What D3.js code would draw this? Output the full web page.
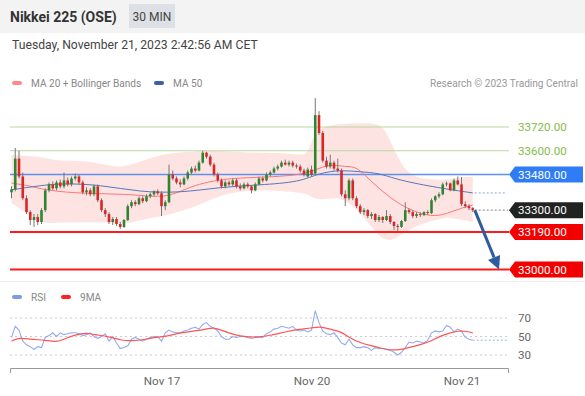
<!DOCTYPE html>
<html>
<head>
<meta charset="utf-8">
<script src="https://cdn.jsdelivr.net/npm/d3@7"></script>
<style>
body{margin:0;background:#fff;}
svg text{font-family:Roboto, Arial, sans-serif;}
</style>
</head>
<body>
<svg id="chart" width="585" height="396"></svg>
<script>
// x axis: candle index of the first bar of each day
const xTickIdx = [40, 80, 120]
const xTickLabels = ['Nov 17', 'Nov 20', 'Nov 21']

// 30 min candles [open, high, low, close]
const ohlc = [
	[33390,33420,33360,33405],[33405,33614,33395,33560],[33560,33600,33460,33470],[33470,33490,33350,33360],
	[33360,33375,33280,33290],[33290,33300,33225,33250],[33250,33280,33215,33265],[33265,33280,33225,33240],
	[33240,33310,33230,33300],[33300,33410,33290,33400],[33400,33440,33390,33430],[33430,33445,33400,33410],
	[33410,33450,33400,33440],[33440,33455,33410,33420],[33420,33490,33410,33450],[33450,33465,33420,33430],
	[33430,33470,33420,33460],[33460,33485,33450,33470],[33470,33480,33430,33440],[33440,33450,33380,33390],
	[33390,33415,33375,33400],[33400,33410,33370,33380],[33380,33430,33370,33420],[33420,33430,33340,33350],
	[33350,33360,33290,33300],[33300,33310,33265,33280],[33280,33290,33230,33240],[33240,33265,33225,33255],
	[33255,33265,33220,33230],[33230,33240,33205,33215],[33215,33255,33210,33250],[33250,33330,33245,33320],
	[33320,33350,33310,33340],[33340,33350,33320,33330],[33330,33370,33325,33360],[33360,33370,33335,33345],
	[33345,33380,33340,33370],[33370,33390,33360,33380],[33380,33400,33370,33395],[33395,33405,33375,33385],
	[33385,33395,33270,33320],[33320,33350,33300,33340],[33340,33530,33335,33480],[33480,33500,33450,33460],
	[33460,33470,33430,33440],[33440,33455,33415,33430],[33430,33470,33425,33460],[33460,33500,33450,33490],
	[33490,33520,33480,33510],[33510,33525,33490,33500],[33500,33550,33495,33540],[33540,33600,33535,33590],
	[33590,33595,33560,33570],[33570,33580,33520,33530],[33530,33540,33470,33480],[33480,33490,33440,33450],
	[33450,33460,33410,33420],[33420,33450,33410,33440],[33440,33450,33420,33430],[33430,33460,33420,33450],
	[33450,33460,33410,33420],[33420,33435,33400,33410],[33410,33440,33405,33430],[33430,33440,33410,33420],
	[33420,33425,33385,33400],[33400,33440,33395,33430],[33430,33470,33425,33460],[33460,33470,33440,33450],
	[33450,33490,33445,33480],[33480,33500,33470,33490],[33490,33520,33485,33510],[33510,33530,33500,33520],
	[33520,33550,33515,33540],[33540,33555,33525,33530],[33530,33550,33520,33540],[33540,33550,33515,33525],
	[33525,33535,33510,33520],[33520,33530,33490,33500],[33500,33510,33470,33480],[33470,33515,33465,33505],
	[33505,33525,33470,33480],[33485,33866,33480,33780],[33780,33800,33680,33690],[33690,33700,33540,33550],
	[33550,33570,33510,33520],[33520,33580,33510,33540],[33540,33550,33500,33510],[33510,33560,33490,33500],
	[33500,33510,33370,33380],[33380,33400,33320,33360],[33360,33460,33350,33450],[33450,33460,33350,33360],
	[33360,33370,33310,33320],[33320,33330,33280,33290],[33290,33310,33275,33300],[33300,33305,33260,33270],
	[33270,33290,33255,33280],[33280,33285,33240,33250],[33250,33275,33240,33265],[33265,33270,33235,33250],
	[33250,33300,33245,33270],[33270,33280,33230,33240],[33240,33245,33200,33220],[33220,33230,33195,33215],
	[33215,33250,33210,33245],[33245,33340,33240,33300],[33300,33310,33280,33290],[33290,33300,33260,33270],
	[33270,33290,33260,33280],[33280,33290,33265,33275],[33275,33295,33270,33290],[33290,33300,33275,33285],
	[33285,33360,33280,33350],[33350,33375,33340,33370],[33370,33390,33360,33380],[33380,33440,33375,33430],
	[33430,33445,33420,33435],[33435,33440,33395,33400],[33400,33460,33395,33450],[33450,33470,33425,33430],
	[33430,33467,33320,33330],[33330,33345,33310,33320],[33320,33330,33300,33310],[33310,33315,33290,33300]
]

// Bollinger bands (MA 20), read at these candle indices
const bbIdx   = [0, 5, 8, 12, 20, 28, 32, 37, 42, 48, 53, 56, 61, 66, 72, 77, 79, 81, 85, 88, 93, 98, 100, 102, 105, 109, 114, 117, 120, 123]
const bbUpper = [33579,33573,33568,33548,33553,33513,33528,33563,33589,33594,33604,33599,33594,33589,33589,33579,33579,33705,33730,33735,33740,33740,33695,33604,33493,33457,33452,33457,33467,33467]
const bbLower = [33336,33276,33235,33235,33240,33235,33235,33260,33276,33311,33351,33377,33395,33402,33397,33387,33382,33351,33356,33367,33291,33164,33149,33149,33190,33230,33255,33265,33250,33240]

// moving averages [candle index, value]
const ma20 = [[0,33437],[5,33422],[9,33402],[16,33387],[26,33382],[34,33377],[41,33361],[47,33412],[51,33437],[58,33462],[69,33467],[77,33478],[81,33503],[85,33533],[89,33518],[92,33523],[96,33442],[101,33361],[106,33301],[112,33265],[116,33281],[120,33311],[123,33326]]
const ma50 = [[0,33402],[5,33417],[13,33437],[24,33427],[34,33392],[45,33387],[56,33417],[66,33427],[77,33442],[82,33488],[88,33503],[93,33493],[98,33488],[103,33452],[114,33412],[123,33387]]

// RSI per candle
const rsi = [49,61,57,45,41,39,36,39,38,49,51,54,50,54,52,53,54,54,53,51,52,54,50,48,
	50,53,45,50,43,37,38,40,47,49,47,45,47,49,50,50,45,54,57,55,54,54,56,57,59,60,58,63,65,61,59,56,50,47,47,50,
	49,50,50,49,48,49,49,49,53,55,58,59,61,60,59,61,57,56,57,55,57,78,65,56,53,52,54,49,43,41,47,41,38,38,39,38,
	35,38,37,37,36,35,33,30,33,38,44,43,45,44,43,46,54,56,55,56,62,60,55,58,56,49,47,46]
const rsiMA = [[0,45],[2,49],[5,47],[9,46],[12,44],[14,47],[17,52],[20,54],[22,52],[26,50],[29,46],[32,45],[36,47],[38,49],[41,50],[45,54],[49,56],[52,58],[54,60],[57,55],[61,50],[65,49],[69,51],[73,55],[77,58],[80,59],[82,61],[85,58],[88,55],[90,49],[93,43],[96,40],[98,38],[101,35],[104,36],[106,38],[109,41],[112,45],[114,50],[117,54],[119,56],[121,56],[123,54]]
const rsiTicks = [70, 50, 30]

// key levels drawn at the right
const levelValues = [33720, 33600, 33480, 33300, 33190, 33000]
const levelKinds = ['res', 'res', 'ma', 'last', 'sup', 'sup']
const target = {idx: 130, price: 33000}

const svg = d3.select('#chart')
const W = 585

// header
svg.append('rect').attr('width', W).attr('height', 33).attr('fill', '#f3f3f3')
svg.append('text').attr('x', 10).attr('y', 22).attr('font-size', 14).attr('font-weight', 'bold')
	.attr('fill', '#333').text('Nikkei 225 (OSE)')
svg.append('rect').attr('x', 129).attr('y', 4).attr('width', 46).attr('height', 24).attr('fill', '#dde1e6')
svg.append('text').attr('x', 152).attr('y', 20.5).attr('text-anchor', 'middle').attr('font-size', 12)
	.attr('fill', '#444').text('30 MIN')
svg.append('text').attr('x', 12).attr('y', 49).attr('font-size', 12.2).attr('fill', '#444')
	.text('Tuesday, November 21, 2023 2:42:56 AM CET')

// legend helper
function legendItem(x, y, color, label){
	svg.append('rect').attr('x', x).attr('y', y - 2).attr('width', 10).attr('height', 4).attr('rx', 2).attr('fill', color)
	svg.append('text').attr('x', x + 19).attr('y', y + 4).attr('font-size', 10.1).attr('fill', '#888').text(label)
}
legendItem(12, 83, '#f88', 'MA 20 + Bollinger Bands')
legendItem(154, 83, '#3a5fa8', 'MA 50')
svg.append('text').attr('x', 578).attr('y', 87).attr('text-anchor', 'end').attr('font-size', 10.1)
	.attr('fill', '#999').text('Research © 2023 Trading Central')

// scales
const x = d3.scaleLinear().domain([-0.4, 132.4]).range([10, 508])
const y = d3.scaleLinear().domain([33000, 33720]).range([269.5, 127])
const yr = d3.scaleLinear().domain([30, 70]).range([355, 318])

const plot = svg.append('g')

// bollinger band
const bb = bbIdx.map((d, i) => ({i: d, u: bbUpper[i], l: bbLower[i]}))
plot.append('path').datum(bb)
	.attr('d', d3.area().x(d => x(d.i)).y0(d => y(d.l)).y1(d => y(d.u)).curve(d3.curveBasis))
	.attr('fill', '#fdd9d9').attr('opacity', 0.75)

// level lines
const lineStyle = {res: ['#b6da9c', 1], ma: ['#5b8ff0', 1.6], last: null, sup: ['#ff1a1a', 2]}
levelValues.forEach((v, i) => {
	const s = lineStyle[levelKinds[i]]
	if(!s) return
	plot.append('line').attr('x1', 10).attr('x2', 509).attr('y1', y(v)).attr('y2', y(v))
		.attr('stroke', s[0]).attr('stroke-width', s[1])
})

// moving averages
const lineGen = d3.line().x(d => x(d[0])).y(d => y(d[1])).curve(d3.curveBasis)
plot.append('path').datum(ma20).attr('d', lineGen).attr('fill', 'none').attr('stroke', '#f77').attr('stroke-width', 1)
plot.append('path').datum(ma50).attr('d', lineGen).attr('fill', 'none').attr('stroke', '#5577bb').attr('stroke-width', 1)

// dotted extensions
const last = ohlc.length - 1
plot.append('line').attr('x1', x(last) + 2).attr('x2', 505)
	.attr('y1', y(ma50[ma50.length - 1][1])).attr('y2', y(ma50[ma50.length - 1][1]))
	.attr('stroke', '#8ea6d8').attr('stroke-dasharray', '2,2')
plot.append('line').attr('x1', x(last) + 2).attr('x2', 508)
	.attr('y1', y(ohlc[last][3])).attr('y2', y(ohlc[last][3]))
	.attr('stroke', '#888').attr('stroke-dasharray', '2,2')

// candles
const candle = plot.append('g').selectAll('g').data(ohlc).join('g')
candle.append('line')
	.attr('x1', (d, i) => x(i)).attr('x2', (d, i) => x(i))
	.attr('y1', d => y(d[1])).attr('y2', d => y(d[2]))
	.attr('stroke', '#777').attr('stroke-width', 1)
candle.append('rect')
	.attr('x', (d, i) => x(i) - 1.3).attr('width', 2.6)
	.attr('y', d => y(Math.max(d[0], d[3])))
	.attr('height', d => Math.max(1, Math.abs(y(d[0]) - y(d[3]))))
	.attr('fill', d => d[3] >= d[0] ? '#2f852f' : '#d92626')

// forecast arrow
const ax0 = x(last) + 2, ay0 = y(ohlc[last][3])
const ax1 = x(target.idx), ay1 = y(target.price)
const ang = Math.atan2(ay1 - ay0, ax1 - ax0)
const hl = 13, hw = 6.5
const bx = ax1 - hl * Math.cos(ang), by = ay1 - hl * Math.sin(ang)
plot.append('line').attr('x1', ax0).attr('y1', ay0).attr('x2', bx).attr('y2', by)
	.attr('stroke', '#2e5c9e').attr('stroke-width', 3)
plot.append('path')
	.attr('d', `M${ax1},${ay1}L${bx + hw * Math.sin(ang)},${by - hw * Math.cos(ang)}L${bx - hw * Math.sin(ang)},${by + hw * Math.cos(ang)}Z`)
	.attr('fill', '#2e5c9e')

// price labels
const boxColor = {ma: '#2f7df6', last: '#222', sup: '#f20000'}
levelValues.forEach((v, i) => {
	const k = levelKinds[i], yc = y(v)
	if(k === 'res'){
		svg.append('text').attr('x', 518).attr('y', yc + 4.2).attr('font-size', 11.6)
			.attr('fill', '#86bb48').text(v.toFixed(2))
		return
	}
	svg.append('path')
		.attr('d', `M509,${yc}L515,${yc - 8}H583V${yc + 8}H515Z`)
		.attr('fill', boxColor[k])
	svg.append('text').attr('x', 518).attr('y', yc + 4.2).attr('font-size', 11.6)
		.attr('fill', '#fff').text(v.toFixed(2))
})

// panel separator
svg.append('line').attr('x1', 0).attr('x2', W).attr('y1', 281.5).attr('y2', 281.5).attr('stroke', '#eee')

// RSI panel
legendItem(12, 297, '#7b9be6', 'RSI')
legendItem(61, 297, '#f22', '9MA')

rsiTicks.forEach(t => {
	svg.append('line').attr('x1', 10).attr('x2', 508).attr('y1', yr(t)).attr('y2', yr(t))
		.attr('stroke', '#ccc').attr('stroke-dasharray', '2,3')
	svg.append('text').attr('x', 518).attr('y', yr(t) + 4).attr('font-size', 11.6).attr('fill', '#666').text(t)
})

svg.append('line').attr('x1', x(last)).attr('x2', 508)
	.attr('y1', yr(rsi[last])).attr('y2', yr(rsi[last]))
	.attr('stroke', '#9db3ee').attr('stroke-dasharray', '2,2')
svg.append('path').datum(rsi)
	.attr('d', d3.line().x((d, i) => x(i)).y(d => yr(d)))
	.attr('fill', 'none').attr('stroke', '#93abef').attr('stroke-width', 1.1)
svg.append('path').datum(rsiMA)
	.attr('d', d3.line().x(d => x(d[0])).y(d => yr(d[1])).curve(d3.curveBasis))
	.attr('fill', 'none').attr('stroke', '#f55').attr('stroke-width', 1.2)

// time axis
const xAxis = svg.append('g').attr('transform', 'translate(0,368)')
	.call(d3.axisBottom(x).tickValues(xTickIdx).tickFormat((d, i) => xTickLabels[i])
		.tickSizeInner(0).tickSizeOuter(5).tickPadding(9))
xAxis.select('.domain').attr('stroke', '#999')
xAxis.selectAll('text').attr('font-size', 11.6).attr('fill', '#666').attr('font-family', 'Roboto, Arial, sans-serif')
</script>
</body>
</html>
